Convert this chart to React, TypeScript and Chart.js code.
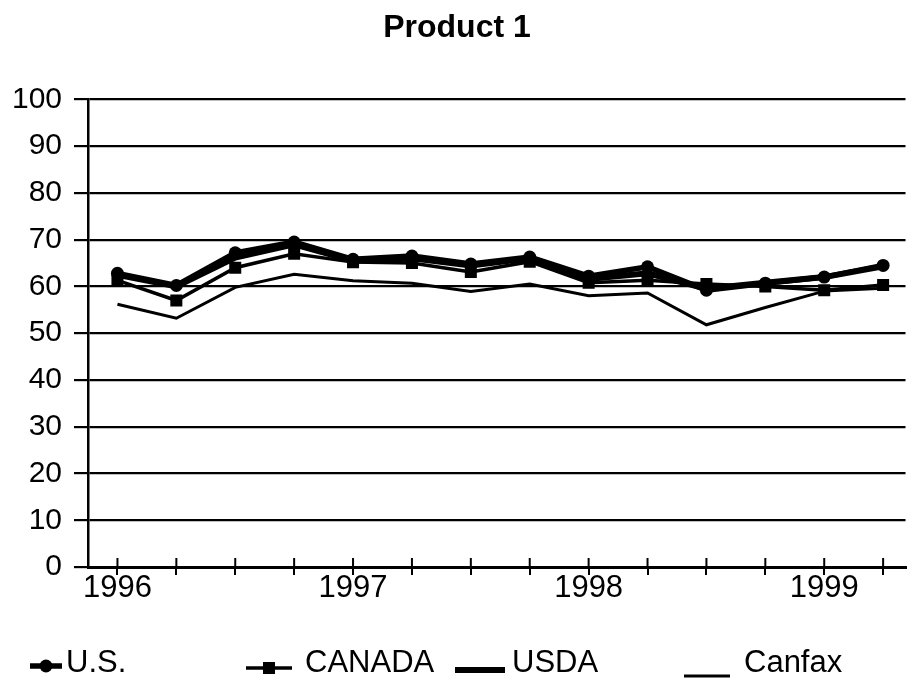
import React, { useEffect, useRef } from "react";
import { Chart, registerables } from "chart.js";

Chart.register(...registerables);

const quarters = [
  "1996 Q1", "1996 Q2", "1996 Q3", "1996 Q4",
  "1997 Q1", "1997 Q2", "1997 Q3", "1997 Q4",
  "1998 Q1", "1998 Q2", "1998 Q3", "1998 Q4",
  "1999 Q1", "1999 Q2",
];
const xTickLabels = ["1996", "", "", "", "1997", "", "", "", "1998", "", "", "", "1999", ""];
const seriesLabels = ["U.S.", "CANADA", "USDA", "Canfax"];
const usValues = [62.8, 60.2, 67.2, 69.5, 65.8, 66.5, 64.8, 66.3, 62.2, 64.2, 59.2, 60.7, 62.0, 64.5];
const canadaValues = [61.3, 57.0, 64.0, 67.0, 65.2, 65.0, 63.1, 65.3, 60.8, 61.3, 60.5, 60.0, 59.2, 60.3];
const usdaValues = [62.5, 60.0, 66.2, 69.0, 65.5, 66.0, 64.5, 66.0, 61.6, 62.8, 59.5, 60.8, 62.0, 64.3];
const canfaxValues = [56.2, 53.2, 59.8, 62.6, 61.2, 60.7, 58.9, 60.5, 58.0, 58.6, 51.8, 55.5, 59.0, 59.6];
const yMin = 0;
const yMax = 100;
const yStep = 10;

const FONT = "'Liberation Sans', Arial, Helvetica, sans-serif";

const toPoints = (vals: number[]) => vals.map((v, i) => ({ x: i, y: v }));

const legendPlugin = {
  id: "customLegend",
  afterDraw(chart: any) {
    const ctx = chart.ctx;
    const items = [
      { x0: 30, x1: 62, y: 666, tx: 66 },
      { x0: 246, x1: 292, y: 668, tx: 305 },
      { x0: 455, x1: 505, y: 670, tx: 512 },
      { x0: 684, x1: 730, y: 676, tx: 744 },
    ];
    ctx.save();
    items.forEach((it, i) => {
      const ds = chart.data.datasets[i];
      ctx.strokeStyle = "#000";
      ctx.fillStyle = "#000";
      ctx.lineWidth = ds.borderWidth;
      ctx.beginPath();
      ctx.moveTo(it.x0, it.y);
      ctx.lineTo(it.x1, it.y);
      ctx.stroke();
      const mx = (it.x0 + it.x1) / 2;
      if (ds.pointStyle === "circle" && ds.pointRadius > 0) {
        ctx.beginPath();
        ctx.arc(mx, it.y, ds.pointRadius, 0, Math.PI * 2);
        ctx.fill();
      } else if (ds.pointStyle === "rect" && ds.pointRadius > 0) {
        const s = ds.pointRadius * Math.SQRT1_2;
        ctx.fillRect(mx - s, it.y - s, 2 * s, 2 * s);
      }
      ctx.font = `31px ${FONT}`;
      ctx.textBaseline = "middle";
      ctx.textAlign = "left";
      ctx.fillText(ds.label, it.tx, 663);
    });
    ctx.restore();
  },
};

const tickCrossPlugin = {
  id: "tickCross",
  afterDraw(chart: any) {
    const ctx = chart.ctx;
    const xs = chart.scales.x;
    const bottom = chart.chartArea.bottom;
    ctx.save();
    ctx.strokeStyle = "#000";
    ctx.lineWidth = 2;
    xs.ticks.forEach((t: any) => {
      const px = xs.getPixelForValue(t.value);
      ctx.beginPath();
      ctx.moveTo(px, bottom - 9);
      ctx.lineTo(px, bottom);
      ctx.stroke();
    });
    ctx.restore();
  },
};

export default function App() {
  const ref = useRef<HTMLCanvasElement | null>(null);

  useEffect(() => {
    if (!ref.current) return;
    const chart = new Chart(ref.current, {
      type: "line",
      data: {
        labels: quarters,
        datasets: [
          {
            label: seriesLabels[0],
            data: toPoints(usValues),
            borderColor: "#000",
            backgroundColor: "#000",
            borderWidth: 5.5,
            pointStyle: "circle",
            pointRadius: 6.5,
            pointBorderWidth: 0,
            pointBackgroundColor: "#000",
            tension: 0,
          },
          {
            label: seriesLabels[1],
            data: toPoints(canadaValues),
            borderColor: "#000",
            backgroundColor: "#000",
            borderWidth: 3.5,
            pointStyle: "rect",
            pointRadius: 8.5,
            pointBorderWidth: 0,
            pointBackgroundColor: "#000",
            tension: 0,
          },
          {
            label: seriesLabels[2],
            data: toPoints(usdaValues),
            borderColor: "#000",
            backgroundColor: "#000",
            borderWidth: 6,
            pointRadius: 0,
            tension: 0,
          },
          {
            label: seriesLabels[3],
            data: toPoints(canfaxValues),
            borderColor: "#000",
            backgroundColor: "#000",
            borderWidth: 3,
            pointRadius: 0,
            tension: 0,
          },
        ] as any,
      },
      options: {
        animation: false,
        responsive: false,
        layout: { padding: { left: 0, right: 0, top: 0, bottom: 78 } },
        plugins: {
          legend: { display: false },
          tooltip: { enabled: false },
          title: {
            display: true,
            text: "Product 1",
            color: "#000",
            font: { size: 32, weight: "bold", family: FONT },
            padding: { top: 9, bottom: 52 },
          },
        },
        scales: {
          x: {
            type: "linear",
            min: -0.5,
            max: 13.38,
            afterBuildTicks: (scale: any) => {
              scale.ticks = quarters.map((_, i) => ({ value: i }));
            },
            afterFit: (scale: any) => {
              scale.height = 40;
            },
            grid: {
              drawOnChartArea: false,
              drawTicks: true,
              tickLength: 8,
              color: "#000",
              lineWidth: 2,
            },
            border: { display: true, color: "#000", width: 3 },
            ticks: {
              autoSkip: false,
              maxRotation: 0,
              padding: -5,
              color: "#000",
              font: { size: 31, family: FONT },
              callback: (_v: any, i: number) => xTickLabels[i],
            },
          },
          y: {
            type: "linear",
            min: yMin,
            max: yMax,
            afterFit: (scale: any) => {
              scale.width = 88;
            },
            grid: {
              color: "#000",
              lineWidth: 2.2,
              tickLength: 14,
            },
            border: { display: true, color: "#000", width: 2.5 },
            ticks: {
              stepSize: yStep,
              padding: 12,
              color: "#000",
              font: { size: 30, family: FONT },
            },
          },
        },
      } as any,
      plugins: [legendPlugin, tickCrossPlugin],
    });
    return () => chart.destroy();
  }, []);

  return (
    <div style={{ position: "absolute", left: 0, top: 0, width: 914, height: 685, background: "#fff" }}>
      <canvas ref={ref} width={914} height={685} style={{ display: "block" }} />
    </div>
  );
}
